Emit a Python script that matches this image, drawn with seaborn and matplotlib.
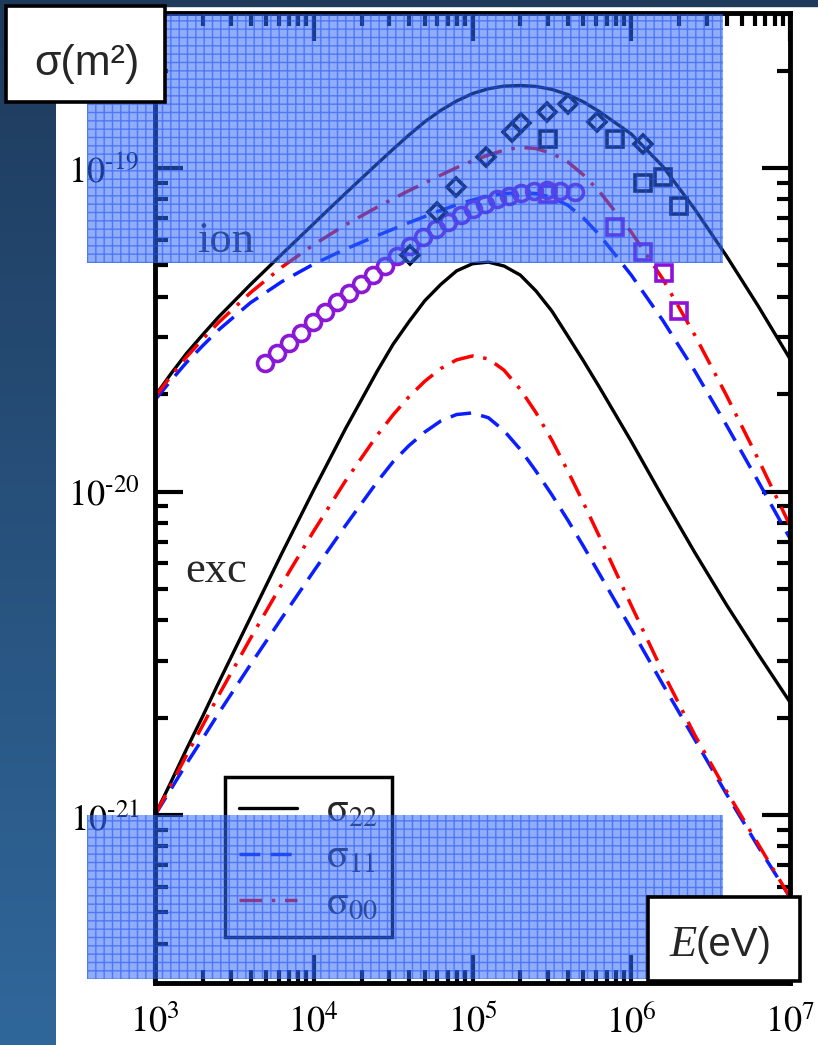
import numpy as np
import matplotlib
matplotlib.use("Agg")
import matplotlib.pyplot as plt
from matplotlib.patches import Rectangle
from matplotlib.colors import LinearSegmentedColormap
from matplotlib.ticker import LogLocator, NullFormatter
import seaborn as sns

E_grid = [1.00e3, 1.26e3, 1.58e3, 2.00e3, 2.51e3, 3.98e3, 6.31e3, 1.00e4, 1.58e4, 2.51e4,
          3.16e4, 3.98e4, 5.01e4, 6.31e4, 7.94e4, 1.00e5, 1.26e5, 1.58e5, 2.00e5, 2.51e5,
          3.16e5, 3.98e5, 5.01e5, 6.31e5, 1.00e6, 1.58e6, 2.51e6, 3.98e6, 6.31e6, 1.00e7]

# log10 of cross section (m^2) -- ionisation
ion22_log = [-19.705, -19.636, -19.573, -19.515, -19.461, -19.361, -19.266, -19.172, -19.079, -18.987,
             -18.942, -18.898, -18.857, -18.822, -18.793, -18.770, -18.755, -18.747, -18.745, -18.748,
             -18.757, -18.773, -18.796, -18.826, -18.895, -18.995, -19.127, -19.272, -19.427, -19.590]
ion11_log = [-19.717, -19.657, -19.601, -19.549, -19.501, -19.417, -19.351, -19.297, -19.251, -19.209,
             -19.189, -19.169, -19.150, -19.131, -19.114, -19.099, -19.087, -19.079, -19.076, -19.079,
             -19.091, -19.115, -19.155, -19.207, -19.331, -19.471, -19.627, -19.795, -19.969, -20.145]
ion00_log = [-19.708, -19.643, -19.584, -19.529, -19.478, -19.386, -19.306, -19.237, -19.176, -19.121,
             -19.095, -19.070, -19.046, -19.022, -18.999, -18.978, -18.960, -18.945, -18.936, -18.940,
             -18.955, -18.981, -19.022, -19.073, -19.198, -19.343, -19.516, -19.703, -19.900, -20.105]

# log10 of cross section (m^2) -- excitation
exc22_log = [-21.000, -20.898, -20.796, -20.694, -20.592, -20.391, -20.190, -19.995, -19.807, -19.628,
             -19.545, -19.475, -19.410, -19.360, -19.318, -19.296, -19.291, -19.303, -19.331, -19.380,
             -19.442, -19.519, -19.597, -19.678, -19.845, -20.018, -20.188, -20.350, -20.503, -20.651]
exc11_log = [-21.000, -20.920, -20.841, -20.763, -20.686, -20.536, -20.390, -20.246, -20.106, -19.970,
             -19.908, -19.858, -19.816, -19.782, -19.762, -19.757, -19.772, -19.812, -19.870, -19.937,
             -20.010, -20.088, -20.170, -20.255, -20.425, -20.596, -20.766, -20.935, -21.098, -21.254]
exc00_log = [-21.000, -20.907, -20.815, -20.722, -20.631, -20.455, -20.285, -20.122, -19.968, -19.826,
             -19.763, -19.707, -19.659, -19.620, -19.593, -19.581, -19.590, -19.625, -19.684, -19.756,
             -19.841, -19.936, -20.036, -20.140, -20.352, -20.558, -20.752, -20.926, -21.090, -21.254]

# measured points
circ_E = [4.93e3, 5.87e3, 6.98e3, 8.31e3, 9.89e3, 1.177e4, 1.401e4, 1.667e4, 1.984e4, 2.362e4,
          2.811e4, 3.345e4, 4.04e4, 4.88e4, 5.89e4, 7.01e4, 8.46e4, 1.007e5, 1.198e5, 1.427e5,
          1.698e5, 2.021e5, 2.44e5, 2.946e5, 3.557e5, 4.42e5]
circ_s = [2.49e-20, 2.68e-20, 2.88e-20, 3.09e-20, 3.34e-20, 3.59e-20, 3.85e-20, 4.11e-20, 4.38e-20, 4.67e-20,
          4.98e-20, 5.35e-20, 5.74e-20, 6.12e-20, 6.48e-20, 6.81e-20, 7.16e-20, 7.47e-20, 7.74e-20, 8.02e-20,
          8.19e-20, 8.37e-20, 8.49e-20, 8.55e-20, 8.49e-20, 8.43e-20]

diam_E = [4.04e4, 5.97e4, 7.87e4, 1.216e5, 1.774e5, 2.02e5, 2.94e5, 4.0e5, 6.09e5, 1.19e6]
diam_s = [5.38e-20, 7.31e-20, 8.73e-20, 1.08e-19, 1.29e-19, 1.38e-19, 1.49e-19, 1.58e-19, 1.39e-19, 1.19e-19]

sqk_E = [2.99e5, 7.91e5, 1.19e6, 1.585e6, 2.0e6]
sqk_s = [1.23e-19, 1.23e-19, 9.0e-20, 9.38e-20, 7.63e-20]

sqp_E = [2.99e5, 7.91e5, 1.19e6, 1.61e6, 2.0e6]
sqp_s = [8.31e-20, 6.58e-20, 5.50e-20, 4.73e-20, 3.61e-20]

x_ticks = [1e3, 1e4, 1e5, 1e6, 1e7]
x_labels = [r'$10^{3}$', r'$10^{4}$', r'$10^{5}$', r'$10^{6}$', r'$10^{7}$']
y_ticks = [1e-21, 1e-20, 1e-19]
y_labels = [r'$10^{\text{-}21}$', r'$10^{\text{-}20}$', r'$10^{\text{-}19}$']
legend_labels = [r'$\mathrm{\sigma}_{22}$', r'$\mathrm{\sigma}_{11}$', r'$\mathrm{\sigma}_{00}$']

sns.set_style("ticks")
plt.rcParams['mathtext.fontset'] = 'stix'
plt.rcParams['hatch.linewidth'] = 1.0

W, H = 818, 1045
fig = plt.figure(figsize=(W / 100, H / 100), dpi=100)
fig.patch.set_facecolor('white')

# slide background: dark gradient strip on the left, thin band on top
bg = fig.add_axes([0, 0, 55 / W, 1], zorder=-5)
cmap = LinearSegmentedColormap.from_list('strip', ['#1e3a5c', '#30679b'])
bg.imshow(np.linspace(0, 1, 256).reshape(-1, 1), aspect='auto', cmap=cmap,
          extent=[0, 1, 0, 1], origin='upper')
bg.axis('off')
fig.add_artist(Rectangle((0, 1 - 6 / H), 1, 6 / H, transform=fig.transFigure,
                         color='#1e3a5a', zorder=-4))

ax = fig.add_axes([155 / W, (H - 983) / H, 635 / W, 970 / H])
ax.set_xscale('log')
ax.set_yscale('log')

solid = dict(color='black', lw=2.4)
dash = dict(color='#0a1eff', lw=2.5, linestyle=(0, (6, 3)))
dashdot = dict(color='#ff0000', lw=2.5, linestyle=(0, (6.5, 2.8, 1, 2.8)))

def curve(logs, style):
    sns.lineplot(x=E_grid, y=10 ** np.array(logs), ax=ax, estimator=None, sort=False, **style)
    return ax.lines[-1]

curve(ion22_log, solid)
curve(ion11_log, dash)
curve(ion00_log, dashdot)
l22 = curve(exc22_log, solid)
l11 = curve(exc11_log, dash)
l00 = curve(exc00_log, dashdot)

def points(E, s, marker, color, ms):
    sns.lineplot(x=E, y=s, ax=ax, estimator=None, sort=False, marker=marker,
                 linestyle='none', color=color, markersize=ms,
                 markerfacecolor='none', markeredgecolor=color, markeredgewidth=2.6)

points(circ_E, circ_s, 'o', '#8a18d4', 11.5)
points(diam_E, diam_s, 'D', 'black', 9.5)
points(sqk_E, sqk_s, 's', 'black', 12)
points(sqp_E, sqp_s, 's', '#9010d8', 12)

ax.set_xlim(1e3, 1e7)
ax.set_ylim(10 ** -21.519, 10 ** -18.521)
ax.set_xticks(x_ticks)
ax.set_xticklabels(x_labels)
ax.set_yticks(y_ticks)
ax.set_yticklabels(y_labels)
for axis in (ax.xaxis, ax.yaxis):
    axis.set_minor_locator(LogLocator(base=10, subs=np.arange(2, 10), numticks=30))
    axis.set_minor_formatter(NullFormatter())
ax.tick_params(which='both', direction='in', top=True, right=True, width=3, color='black')
ax.tick_params(which='major', length=20, labelsize=26, labelcolor='black')
ax.tick_params(axis='x', which='major', pad=15)
ax.tick_params(axis='y', which='major', pad=11)
ax.tick_params(which='minor', length=9.5)
for sp in ax.spines.values():
    sp.set_linewidth(3.5)
    sp.set_color('black')
ax.set_xlabel('')
ax.set_ylabel('')

ax.text(1.84e3, 5.5e-20, 'ion', fontsize=32, family='Liberation Serif', va='baseline')
ax.text(1.55e3, 5.25e-21, 'exc', fontsize=32, family='Liberation Serif', va='baseline')

leg = ax.legend(handles=[l22, l11, l00], labels=legend_labels, loc='lower left',
                bbox_to_anchor=(0.110, 0.0474), borderaxespad=0, fontsize=29,
                frameon=True, fancybox=False, edgecolor='black', framealpha=1,
                handlelength=1.45, handletextpad=0.7, labelspacing=0.15, borderpad=0.35)
leg.get_frame().set_linewidth(2.5)

# translucent blue grid overlays of the slide
for (x0, y0, x1, y1) in [(87, 14, 723, 263), (87, 815, 723, 979)]:
    fig.add_artist(Rectangle((x0 / W, 1 - y1 / H), (x1 - x0) / W, (y1 - y0) / H,
                             transform=fig.transFigure, facecolor=(0.2, 0.42, 0.96, 0.55),
                             edgecolor=(0.1, 0.3, 0.95, 0.55), hatch='++', linewidth=0, zorder=2))

# label boxes
for (x0, y0, x1, y1) in [(6, 6, 165, 102), (648, 897, 800, 981)]:
    fig.add_artist(Rectangle((x0 / W, 1 - y1 / H), (x1 - x0) / W, (y1 - y0) / H,
                             transform=fig.transFigure, facecolor='white',
                             edgecolor='black', linewidth=2.6, zorder=3))
fig.text(87 / W, 1 - 75 / H, 'σ(m²)', fontsize=31, family='Liberation Sans',
         ha='center', va='baseline', zorder=4)
fig.text(670 / W, 1 - 956 / H, 'E', fontsize=32, family='Liberation Serif', style='italic',
         ha='left', va='baseline', zorder=4)
fig.text(696 / W, 1 - 956 / H, '(eV)', fontsize=29, family='Liberation Sans',
         ha='left', va='baseline', zorder=4)

fig.savefig('out.png', dpi=100)
